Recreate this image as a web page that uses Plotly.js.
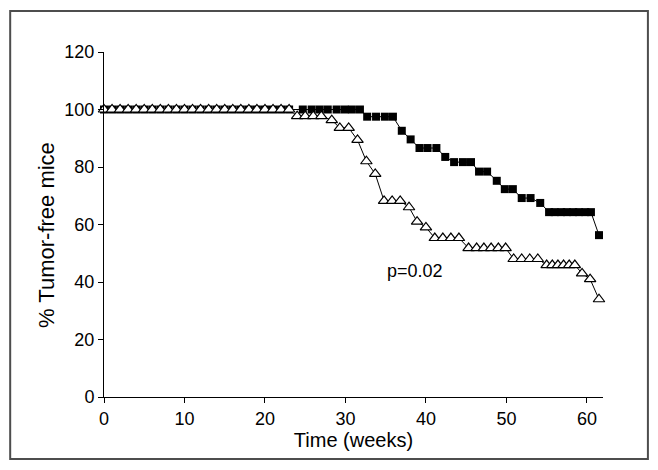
<!DOCTYPE html>
<html>
<head>
<meta charset="utf-8">
<script src="https://cdn.plot.ly/plotly-3.0.1.min.js"></script>
<style>html,body{margin:0;padding:0;background:#fff;}#chart{width:658px;height:470px;}</style>
</head>
<body>
<div id="chart"></div>
<script>
// Group with filled squares
const squareTime = [0,1,2,3,4,5,6,7,8,9,10,11,12,13,14,15,16,17,18,19,20,21,22,23,24.7,25.8,26.8,27.8,28.9,29.9,30.8,31.8,
  32.7,33.8,34.9,35.9,37.0,38.1,39.2,40.2,41.3,42.4,43.5,44.6,45.6,46.6,47.6,48.8,49.8,50.8,51.9,53.0,54.2,
  55.3,56.0,56.8,57.5,58.3,59.0,59.8,60.5,61.5];
const squareValue = [100,100,100,100,100,100,100,100,100,100,100,100,100,100,100,100,100,100,100,100,100,100,100,100,100,100,100,100,100,100,100,100,
  97.5,97.5,97.5,97.5,92.6,89.6,86.6,86.6,86.6,83.5,81.7,81.7,81.7,78.4,78.4,75.2,72.3,72.3,69.2,69.2,67.5,
  64.3,64.3,64.3,64.3,64.3,64.3,64.3,64.3,56.3];
// Group with open triangles
const triTime = [0,1,2,3,4,5,6,7,8,9,10,11,12,13,14,15,16,17,18,19,20,21,22,23,
  24,25,26,27,28.3,29.3,30.4,31.5,32.6,33.7,34.8,35.8,36.8,37.9,38.9,40.0,41.1,42.1,43.1,44.1,
  45.3,46.3,47.2,48.1,49.0,49.9,50.9,51.9,52.9,53.9,55.0,55.7,56.4,57.1,57.8,58.5,59.4,60.4,61.5];
const triValue = [100,100,100,100,100,100,100,100,100,100,100,100,100,100,100,100,100,100,100,100,100,100,100,100,
  97.7,97.7,97.7,97.7,96.3,93.6,93.6,89.4,82.0,77.6,68.2,68.2,68.2,66.0,61.0,59.0,55.3,55.3,55.3,55.3,
  51.8,51.8,51.8,51.8,51.8,51.8,48.0,48.0,48.0,48.0,45.9,45.9,45.9,45.9,45.9,45.9,43.0,41.0,34.0];
const xTicks = [0,10,20,30,40,50,60];
const yTicks = [0,20,40,60,80,100,120];
const xTitle = 'Time (weeks)';
const yTitle = '% Tumor-free mice';
const pLabel = 'p=0.02';

const font = 'Liberation Sans, Arial, sans-serif';
const traces = [
  {x: squareTime, y: squareValue, mode: 'lines+markers', type: 'scatter',
   line: {color: '#000', width: 1},
   marker: {symbol: 'square', size: 8, color: '#000', line: {color: '#000', width: 0}},
   showlegend: false, cliponaxis: false},
  {x: triTime, y: triValue, mode: 'lines+markers', type: 'scatter',
   line: {color: '#000', width: 1},
   marker: {symbol: 'triangle-up', size: 10, color: '#fff', line: {color: '#000', width: 1.2}},
   showlegend: false, cliponaxis: false}
];
const layout = {
  width: 658, height: 470,
  margin: {l: 104, r: 55, t: 52, b: 73},
  paper_bgcolor: '#fff', plot_bgcolor: '#fff',
  font: {family: font, size: 18, color: '#000'},
  xaxis: {range: [0, 62], tickvals: xTicks, ticktext: xTicks.map(String), showgrid: false, zeroline: false,
    showline: true, linecolor: '#000', linewidth: 1, ticks: 'outside', ticklen: 5, tickcolor: '#000',
    tickfont: {family: font, size: 18, color: '#000'},
    title: {text: xTitle, font: {family: font, size: 20, color: '#000'}, standoff: 2}},
  yaxis: {range: [0, 120], tickvals: yTicks, ticktext: yTicks.map(String), showgrid: false, zeroline: false,
    showline: true, linecolor: '#000', linewidth: 1, ticks: 'outside', ticklen: 5, tickcolor: '#000',
    tickfont: {family: font, size: 18, color: '#000'},
    title: {text: ''}},
  annotations: [
    {x: 34.9, y: 44, xref: 'x', yref: 'y', text: pLabel, showarrow: false, xanchor: 'left', yanchor: 'middle',
     font: {family: font, size: 18, color: '#000'}},
    {x: -0.114, y: 0.47, xref: 'paper', yref: 'paper', text: yTitle, showarrow: false, textangle: -90,
     xanchor: 'center', yanchor: 'middle', font: {family: font, size: 22, color: '#000'}}
  ],
  shapes: [{type: 'rect', xref: 'paper', yref: 'paper', x0: -0.188, x1: 1.090, y0: -0.180, y1: 1.119,
    line: {color: '#4d4d4d', width: 2}, fillcolor: 'rgba(0,0,0,0)', layer: 'below'}]
};
Plotly.newPlot('chart', traces, layout, {displayModeBar: false, staticPlot: true});
</script>
</body>
</html>
